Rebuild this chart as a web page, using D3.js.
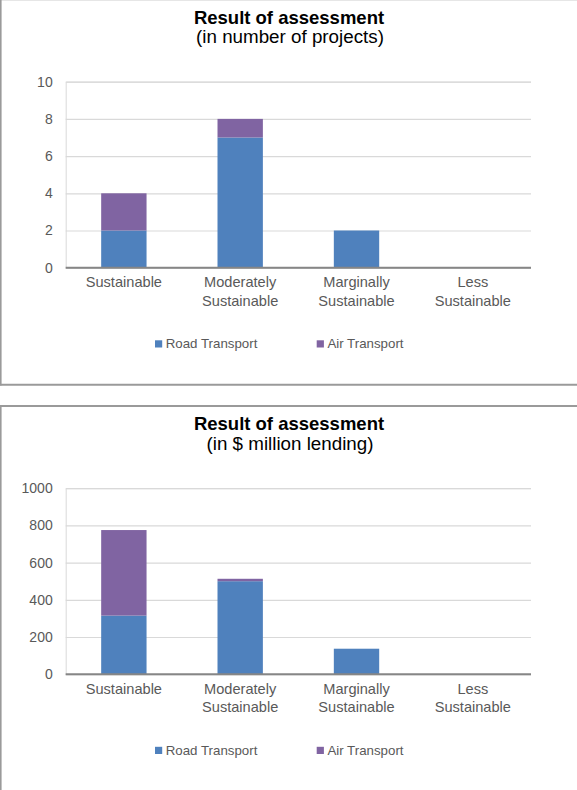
<!DOCTYPE html>
<html>
<head>
<meta charset="utf-8">
<script src="https://cdn.jsdelivr.net/npm/d3@7"></script>
<style>
  html, body { margin: 0; padding: 0; background: #fff; }
  svg { display: block; }
  text { font-family: "Liberation Sans", Arial, sans-serif; }
</style>
</head>
<body>
<svg id="chart" width="577" height="790"></svg>
<script>
// ---- data ----
const categories = ["Sustainable", "Moderately Sustainable", "Marginally Sustainable", "Less Sustainable"];
const categoryLines = [["Sustainable"], ["Moderately", "Sustainable"], ["Marginally", "Sustainable"], ["Less", "Sustainable"]];
const seriesNames = ["Road Transport", "Air Transport"];
const seriesColors = ["#4F81BD", "#8064A2"];

const projectsRoad = [2, 7, 2, 0];
const projectsAir = [2, 1, 0, 0];
const projectTicks = [0, 2, 4, 6, 8, 10];

const lendingRoad = [315, 500, 137, 0];
const lendingAir = [460, 13, 0, 0];
const lendingTicks = [0, 200, 400, 600, 800, 1000];

const titles = ["Result of assessment", "Result of assessment"];
const subtitles = ["(in number of projects)", "(in $ million lending)"];

// ---- drawing ----
const svg = d3.select("#chart");

function drawChart(offsetY, road, air, ticks, title, subtitle) {
  const g = svg.append("g").attr("transform", `translate(0,${offsetY})`);
  const left = 65.7, right = 531, top = 81.7, bottom = 267.7;

  const x = d3.scaleBand().domain(categories).range([left, right])
    .paddingInner(0.61).paddingOuter(0.305);
  const y = d3.scaleLinear().domain([0, ticks[ticks.length - 1]]).range([bottom, top]);

  // titles
  g.append("text").attr("x", 289).attr("y", 23.5).attr("text-anchor", "middle")
    .attr("font-size", 18.5).attr("font-weight", "bold").attr("fill", "#000").text(title);
  g.append("text").attr("x", 290).attr("y", 43).attr("text-anchor", "middle")
    .attr("font-size", 18.8).attr("fill", "#000").text(subtitle);

  // y axis + gridlines
  const yAxis = d3.axisLeft(y).tickValues(ticks).tickFormat(d3.format("d"))
    .tickSize(-(right - left)).tickPadding(13);
  const ya = g.append("g").attr("transform", `translate(${left},0)`).call(yAxis);
  ya.select(".domain").attr("stroke", "#D9D9D9").attr("stroke-width", 1);
  ya.selectAll(".tick line").attr("stroke", "#D9D9D9").attr("stroke-width", 1.2);
  ya.selectAll(".tick text").attr("fill", "#595959").attr("font-size", 14)
    .attr("font-family", "'Liberation Sans', Arial, sans-serif");

  // stacked bars
  const rows = categories.map((c, i) => ({ cat: c, road: road[i], air: air[i] }));
  const stack = d3.stack().keys(["road", "air"])(rows);
  stack.forEach((layer, li) => {
    g.append("g").attr("fill", seriesColors[li]).selectAll("rect")
      .data(layer.filter(d => d[1] - d[0] > 0))
      .join("rect")
      .attr("x", d => x(d.data.cat))
      .attr("width", x.bandwidth())
      .attr("y", d => y(d[1]))
      .attr("height", d => y(d[0]) - y(d[1]));
  });

  // x baseline
  g.append("line").attr("x1", left).attr("x2", right).attr("y1", y(0)).attr("y2", y(0))
    .attr("stroke", "#868686").attr("stroke-width", 2);

  // category labels
  const xl = g.append("g");
  categories.forEach((c, i) => {
    const t = xl.append("text").attr("x", x(c) + x.bandwidth() / 2).attr("y", 287.3)
      .attr("text-anchor", "middle").attr("font-size", 14.6).attr("fill", "#595959");
    categoryLines[i].forEach((ln, k) => {
      t.append("tspan").attr("x", x(c) + x.bandwidth() / 2).attr("dy", k === 0 ? 0 : 18.4).text(ln);
    });
  });

  // legend
  const legX = [155, 316.7];
  const leg = g.append("g");
  seriesNames.forEach((n, i) => {
    leg.append("rect").attr("x", legX[i]).attr("y", 340.3).attr("width", 7.2).attr("height", 7.2)
      .attr("fill", seriesColors[i]);
    leg.append("text").attr("x", legX[i] + 10.7).attr("y", 348.4).attr("font-size", 13.3)
      .attr("fill", "#595959").text(n);
  });
}

// frames
svg.append("line").attr("x1", 0).attr("x2", 577).attr("y1", 0.5).attr("y2", 0.5)
  .attr("stroke", "#E6E6E6").attr("stroke-width", 1);
svg.append("line").attr("x1", 0).attr("x2", 577).attr("y1", 384.7).attr("y2", 384.7)
  .attr("stroke", "#9A9A9A").attr("stroke-width", 2);
svg.append("line").attr("x1", 0).attr("x2", 577).attr("y1", 406).attr("y2", 406)
  .attr("stroke", "#9A9A9A").attr("stroke-width", 2);
svg.append("line").attr("x1", 0.8).attr("x2", 0.8).attr("y1", 0).attr("y2", 385.5)
  .attr("stroke", "#9A9A9A").attr("stroke-width", 1.6);
svg.append("line").attr("x1", 0.8).attr("x2", 0.8).attr("y1", 405).attr("y2", 790)
  .attr("stroke", "#9A9A9A").attr("stroke-width", 1.6);

drawChart(0, projectsRoad, projectsAir, projectTicks, titles[0], subtitles[0]);
drawChart(406.5, lendingRoad, lendingAir, lendingTicks, titles[1], subtitles[1]);
</script>
</body>
</html>
